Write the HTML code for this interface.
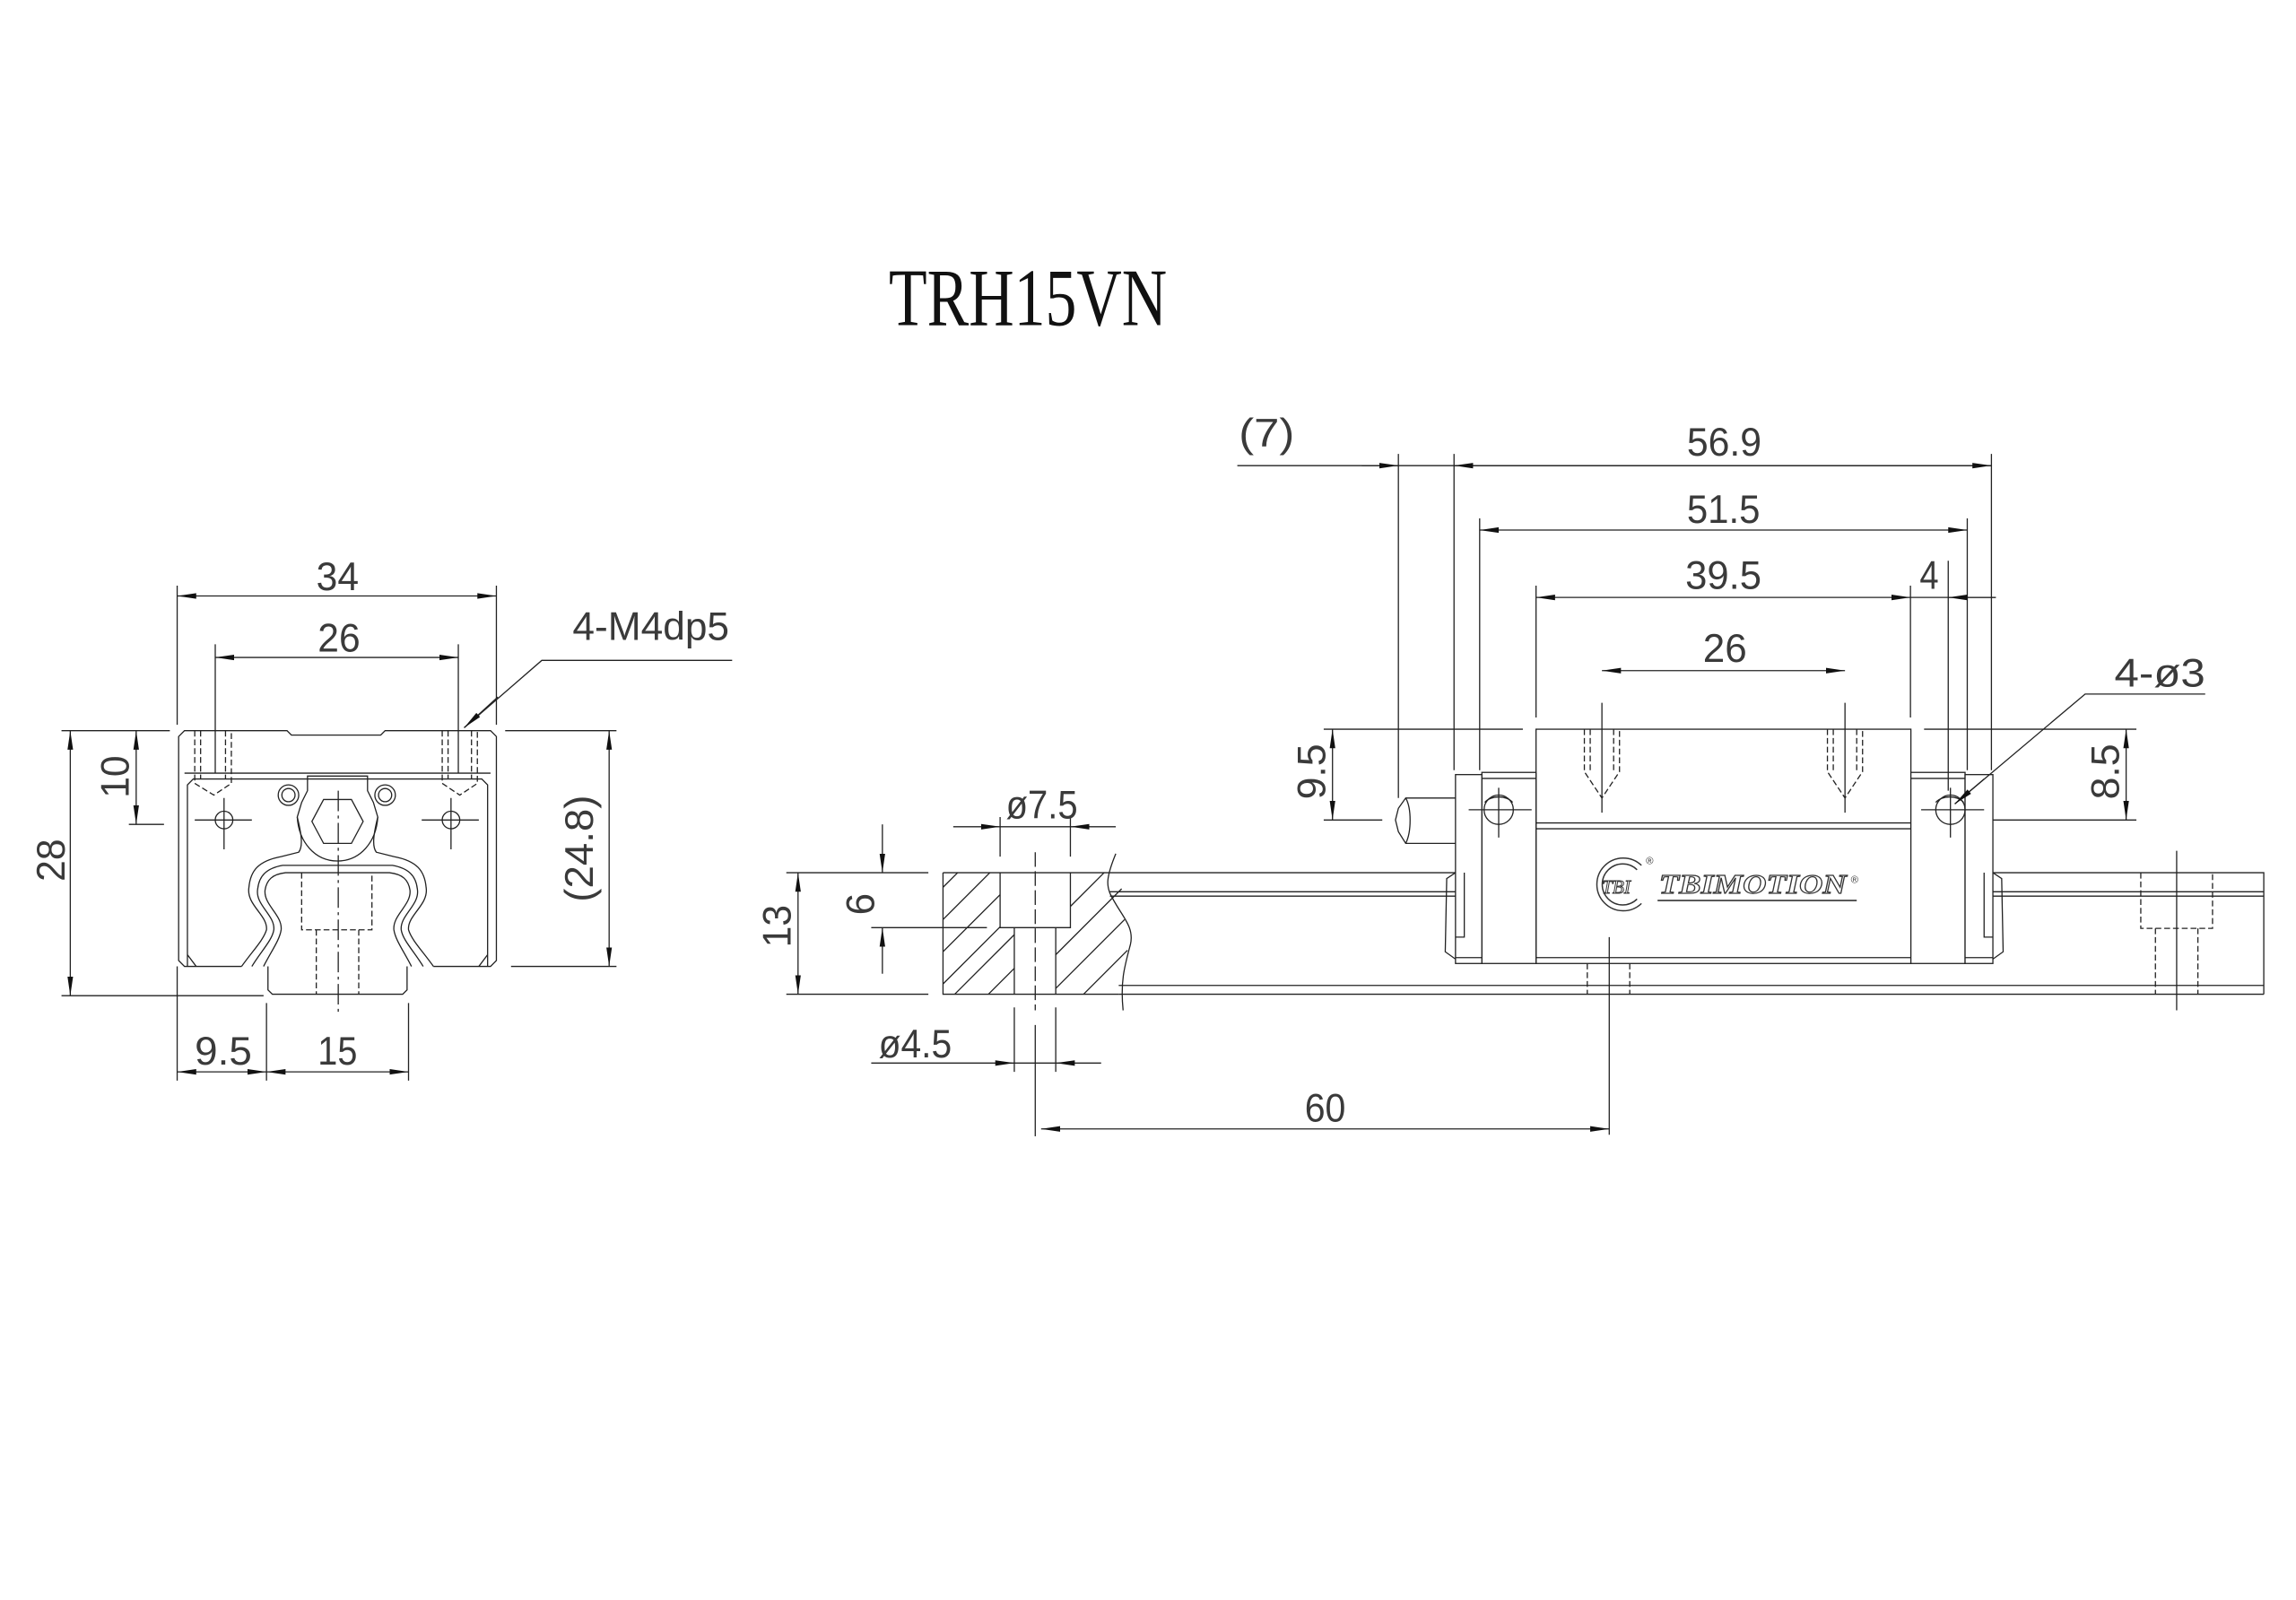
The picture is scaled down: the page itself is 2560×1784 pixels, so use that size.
<!DOCTYPE html>
<html><head><meta charset="utf-8"><style>
html,body{margin:0;padding:0;background:#fff;}
svg{display:block;}
text{font-family:"Liberation Sans",sans-serif;fill:#3a3a3a;font-size:27px;}
</style></head><body>
<svg width="2560" height="1784" viewBox="0 0 1568 1092.7" xmlns="http://www.w3.org/2000/svg">
<defs>
<marker id="a" markerUnits="userSpaceOnUse" markerWidth="14" markerHeight="6" refX="13" refY="2.5" orient="auto-start-reverse" viewBox="0 0 14 5"><path d="M0,0.6 L13,2.5 L0,4.4 Z" fill="#111"/></marker>
</defs>
<rect width="1568" height="1093" fill="#fff"/>
<text x="607" y="222" textLength="190" lengthAdjust="spacingAndGlyphs" style="font-family:'Liberation Serif',serif;font-size:56px;fill:#111">TRH15VN</text>

<g stroke="#222" stroke-width="0.8" fill="none">
<!-- LEFT VIEW -->
<path d="M165,660 L126,660 L122,656 L122,503 L126,499 L196,499 L199,502 L260,502 L263,499 L335,499 L339,503 L339,656 L335,660 L296,660"/>
<line x1="126" y1="528" x2="335" y2="528"/>
<path d="M128,660 L128,536 L132,532 L329,532 L333,536 L333,660 M128,652 L134,660 M333,652 L327,660"/>
<path d="M165,660 C172,650 180,642 182,635 C183,625 168,618 170,606 C171,595 176,588 192,585 L204,582 C207,578 206,570 203,558 L206,548 L210,540 L210,530 L251,530 L251,540 L255,548 L258,558 C255,570 254,578 257,582 L269,585 C285,588 290,595 291,606 C293,618 278,625 279,635 C281,642 289,650 296,660"/>
<path d="M203,558 C204,575 215,588 230.5,588 C246,588 257,575 258,558"/>
<path d="M172,660 C178,650 186,642 187,635 C188,625 174,618 176,607 C177,598 182,593 193,591 L268,591 C279,593 284,598 285,607 C287,618 273,625 274,635 C275,642 283,650 289,660"/>
<path d="M180,660 C185,650 191,642 192,635 C193,625 180,618 181,608 C182,601 186,597 195,596 L266,596 C275,597 279,601 280,608 C281,618 268,625 269,635 C270,642 276,650 281,660"/>
<path d="M183,660 L183,676 L186,679 L275,679 L278,676 L278,660"/>
<path d="M206,596 L206,635 L254,635 L254,596 M216,635 L216,679 M245,635 L245,679" stroke-dasharray="4,2"/>
<line x1="231" y1="540" x2="231" y2="693" stroke-dasharray="14,3,2,3"/>
<polygon points="221,546 240,546 248,561 240,576 221,576 213,561"/>
<circle cx="197" cy="543" r="7"/><circle cx="197" cy="543" r="4.5"/>
<circle cx="263" cy="543" r="7"/><circle cx="263" cy="543" r="4.5"/>
<path d="M133,499 L133,535 L146,543 L158,535 L158,499 M137,499 L137,532 M154,499 L154,532 M302,499 L302,535 L314,543 L326,535 L326,499 M306,499 L306,532 M322,499 L322,532" stroke-dasharray="4,2"/>
<circle cx="153" cy="560" r="6"/><circle cx="308" cy="560" r="6"/>
<path d="M133,560 L172,560 M153,545 L153,580 M288,560 L327,560 M308,545 L308,580"/>
<!-- left dims -->
<path d="M121,400 L121,495 M339,400 L339,495 M147,440 L147,528 M313,440 L313,528"/>
<line x1="121" y1="407" x2="339" y2="407" marker-start="url(#a)" marker-end="url(#a)"/>
<line x1="147" y1="449" x2="313" y2="449" marker-start="url(#a)" marker-end="url(#a)"/>
<path d="M500,451 L370,451 L317,497"/><line x1="340" y1="476" x2="317" y2="497" marker-end="url(#a)"/>
<path d="M42,499 L116,499 M42,680 L180,680 M88,563 L112,563 M345,499 L421,499 M349,660 L421,660"/>
<line x1="48" y1="499" x2="48" y2="680" marker-start="url(#a)" marker-end="url(#a)"/>
<line x1="93" y1="499" x2="93" y2="563" marker-start="url(#a)" marker-end="url(#a)"/>
<line x1="416" y1="499" x2="416" y2="660" marker-start="url(#a)" marker-end="url(#a)"/>
<path d="M121,660 L121,738 M182,685 L182,738 M279,685 L279,738"/>
<line x1="121" y1="732" x2="182" y2="732" marker-start="url(#a)" marker-end="url(#a)"/>
<line x1="182" y1="732" x2="279" y2="732" marker-start="url(#a)" marker-end="url(#a)"/>

<!-- RAIL SECTION -->
<path d="M762,583 C755,600 756,605 758,610 C765,625 775,632 772,645 C768,660 765,670 767,690"/>
<path d="M644,596 L644,679 L764,679 M644,596 L758,596"/>
<path d="M683,596 L683,633.5 L731,633.5 L731,596 M692.7,633.5 L692.7,679 M721,633.5 L721,679"/>
<line x1="707" y1="582" x2="707" y2="690" stroke-dasharray="10,3"/>
<line x1="707" y1="700" x2="707" y2="776"/>
<path d="M644,606 L654,596 M644,628 L676,596 M644,650 L683,611 M644,672 L683,633 M652,679 L692.7,638.3 M675,679 L692.7,661.3 M731,619 L754,596 M731,642 L760,613 M721,652 L766,607 M721,675 L768,628 M740,679 L770,649"/>
<path d="M758,596 L994,596 M758,609 L994,609 M758,612 L994,612 M764,673 L1546,673 M764,679 L1546,679"/>
<path d="M1361,596 L1546,596 L1546,679 M1361,609 L1546,609 M1361,612 L1546,612"/>
<path d="M537,596 L634,596 M537,679 L634,679 M595,633.5 L674,633.5"/>
<line x1="545" y1="596" x2="545" y2="679" marker-start="url(#a)" marker-end="url(#a)"/>
<line x1="602.6" y1="563" x2="602.6" y2="596" marker-end="url(#a)"/>
<line x1="602.6" y1="665" x2="602.6" y2="633.5" marker-end="url(#a)"/>
<path d="M683,558 L683,585 M731,558 L731,585 M692.7,688 L692.7,732 M721,688 L721,732"/>
<line x1="651" y1="564.6" x2="683" y2="564.6" marker-end="url(#a)"/>
<line x1="762" y1="564.6" x2="731" y2="564.6" marker-end="url(#a)"/>
<line x1="683" y1="564.6" x2="731" y2="564.6"/>
<line x1="595" y1="726" x2="692.7" y2="726" marker-end="url(#a)"/>
<line x1="752" y1="726" x2="721" y2="726" marker-end="url(#a)"/>
<line x1="692.7" y1="726" x2="721" y2="726"/>
<line x1="711" y1="771" x2="1099" y2="771" marker-start="url(#a)" marker-end="url(#a)"/>

<!-- SIDE VIEW BLOCK -->
<rect x="1049" y="498" width="256" height="160" fill="#fff"/>
<path d="M1049,562 L1305,562 M1049,566 L1305,566 M1049,654 L1305,654"/>
<rect x="1012" y="527.5" width="37" height="130.5" fill="#fff"/>
<rect x="1305" y="527.5" width="37" height="130.5" fill="#fff"/>
<path d="M1012,531.6 L1049,531.6 M1305,531.6 L1342,531.6 M994,654 L1012,654 M1342,654 L1361,654"/>
<rect x="994" y="529" width="18" height="129" fill="#fff"/>
<rect x="1342" y="529" width="19" height="129" fill="#fff"/>
<path d="M994,654 L1012,654 M1342,654 L1361,654"/>
<path d="M994,596 L988,600 L987,650 L994,655 M1000,596 L1000,640 L994,640 M1361,596 L1367,600 L1368,650 L1361,655 M1355,596 L1355,640 L1361,640"/>
<circle cx="1023.5" cy="553" r="10"/><circle cx="1332" cy="553" r="10"/>
<path d="M1014,548 C1018,543 1029,543 1033,548 M1322,548 C1326,543 1337,543 1341,548"/>
<path d="M1003,553 L1046,553 M1023.5,538 L1023.5,572 M1312,553 L1355,553 M1332,538 L1332,572"/>
<path d="M994,545 L960,545 L955,552 L953,560 L955,568 L960,576 L994,576 M960,545 C964,552 964,568 960,576"/>
<path d="M1082,498 L1082,527 L1094,545 L1106,527 L1106,498 M1086,498 L1086,527 M1102,498 L1102,527 M1248,498 L1248,527 L1260,545 L1272,527 L1272,498 M1252,498 L1252,527 M1268,498 L1268,527" stroke-dasharray="4,2"/>
<path d="M1094,480 L1094,555 M1260,480 L1260,555"/>
<path d="M1084,658 L1084,679 M1113,658 L1113,679" stroke-dasharray="4,2"/>
<path d="M1099,640 L1099,775"/>
<path d="M1462,596 L1462,634 L1511,634 L1511,596 M1472,634 L1472,679 M1501,634 L1501,679" stroke-dasharray="4,2"/>
<path d="M1486.5,581 L1486.5,690"/>
<!-- side dims -->
<path d="M845,318 L1360,318 M955,310 L955,545 M993,310 L993,526 M1360,310 L1360,526 M1010.5,354 L1010.5,526 M1343.5,354 L1343.5,526 M1049,400 L1049,490 M1304.7,400 L1304.7,490 M1330.5,383 L1330.5,540 M1304.7,408 L1363,408 M904,498 L1040,498 M904,560 L944,560 M1314,498 L1459,498 M1361,560 L1459,560"/>
<line x1="930" y1="318" x2="955" y2="318" marker-end="url(#a)"/>
<line x1="993" y1="318" x2="1360" y2="318" marker-start="url(#a)" marker-end="url(#a)"/>
<line x1="1010.5" y1="362" x2="1343.5" y2="362" marker-start="url(#a)" marker-end="url(#a)"/>
<line x1="1049" y1="408" x2="1304.7" y2="408" marker-start="url(#a)" marker-end="url(#a)"/>
<line x1="1363" y1="408" x2="1330.5" y2="408" marker-end="url(#a)"/>
<line x1="1094" y1="458" x2="1260" y2="458" marker-start="url(#a)" marker-end="url(#a)"/>
<line x1="910" y1="498" x2="910" y2="560" marker-start="url(#a)" marker-end="url(#a)"/>
<line x1="1452" y1="498" x2="1452" y2="560" marker-start="url(#a)" marker-end="url(#a)"/>
<path d="M1506,474 L1424,474 L1335,549"/><line x1="1355" y1="532" x2="1335" y2="549" marker-end="url(#a)"/>
</g>

<!-- texts -->
<text x="216" y="403" textLength="29" lengthAdjust="spacingAndGlyphs">34</text>
<text x="217" y="445" textLength="29" lengthAdjust="spacingAndGlyphs">26</text>
<text x="391" y="437" textLength="107" lengthAdjust="spacingAndGlyphs">4-M4dp5</text>
<text x="133" y="727" textLength="39" lengthAdjust="spacingAndGlyphs">9.5</text>
<text x="217" y="727" textLength="27" lengthAdjust="spacingAndGlyphs">15</text>
<text transform="translate(44,602) rotate(-90)" textLength="29" lengthAdjust="spacingAndGlyphs">28</text>
<text transform="translate(88,545) rotate(-90)" textLength="29" lengthAdjust="spacingAndGlyphs">10</text>
<text transform="translate(405,616) rotate(-90)" textLength="73" lengthAdjust="spacingAndGlyphs">(24.8)</text>
<text x="846" y="305" textLength="38" lengthAdjust="spacingAndGlyphs">(7)</text>
<text x="1152" y="311" textLength="51" lengthAdjust="spacingAndGlyphs">56.9</text>
<text x="1152" y="357" textLength="50" lengthAdjust="spacingAndGlyphs">51.5</text>
<text x="1151" y="402" textLength="52" lengthAdjust="spacingAndGlyphs">39.5</text>
<text x="1311" y="402" textLength="13" lengthAdjust="spacingAndGlyphs">4</text>
<text x="1163" y="452" textLength="30" lengthAdjust="spacingAndGlyphs">26</text>
<text x="1444" y="469" textLength="62" lengthAdjust="spacingAndGlyphs">4-ø3</text>
<text transform="translate(905,546) rotate(-90)" textLength="38" lengthAdjust="spacingAndGlyphs">9.5</text>
<text transform="translate(1447,546) rotate(-90)" textLength="38" lengthAdjust="spacingAndGlyphs">8.5</text>
<text transform="translate(540,647) rotate(-90)" textLength="29" lengthAdjust="spacingAndGlyphs">13</text>
<text transform="translate(597,625) rotate(-90)" textLength="15" lengthAdjust="spacingAndGlyphs">6</text>
<text x="687" y="559" textLength="49" lengthAdjust="spacingAndGlyphs">ø7.5</text>
<text x="600" y="722" textLength="50" lengthAdjust="spacingAndGlyphs">ø4.5</text>
<text x="891" y="766" textLength="28" lengthAdjust="spacingAndGlyphs">60</text>
<!-- logo -->
<g fill="none" stroke="#333" stroke-width="0.9">
<path d="M1121,591 A18,18 0 1,0 1121,617"/>
<path d="M1118,594 A14,14 0 1,0 1118,614"/>
</g>
<text x="1094" y="610" style="font-family:'Liberation Serif',serif;font-style:italic;font-size:13px;fill:#fff;stroke:#333;stroke-width:0.6">TBI</text>
<text x="1133" y="610" textLength="128" lengthAdjust="spacingAndGlyphs" style="font-family:'Liberation Serif',serif;font-style:italic;font-weight:bold;font-size:19px;fill:#fff;stroke:#333;stroke-width:0.7">TBIMOTION</text>
<line x1="1132" y1="615" x2="1268" y2="615" stroke="#333" stroke-width="1"/>
<text x="1124" y="590" style="font-size:7px;fill:#333">®</text>
<text x="1264" y="603" style="font-size:7px;fill:#333">®</text>
</svg>
</body></html>
